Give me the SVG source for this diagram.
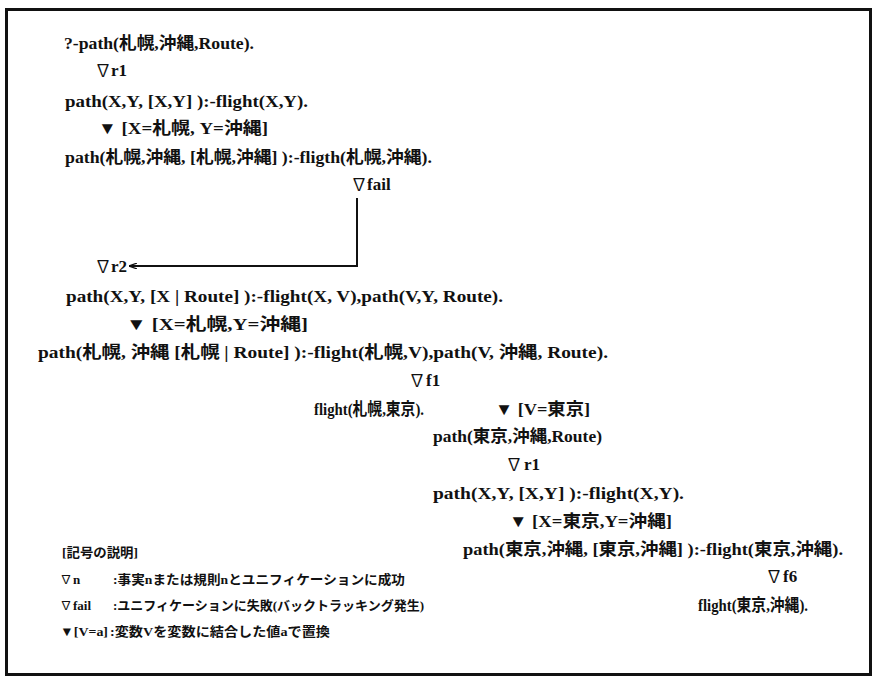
<svg xmlns="http://www.w3.org/2000/svg" width="876" height="681" viewBox="0 0 876 681">
<defs>
<style>
.t{font-family:"Liberation Serif","Noto Sans CJK JP",serif;font-size:17px;font-weight:bold;fill:#111}
.s{font-family:"Liberation Serif","Noto Sans CJK JP",serif;font-size:13px;font-weight:bold;fill:#111}
.n{font-weight:normal;font-size:16px}
.s .n{font-size:12px}
.c{stroke:#111;stroke-width:2;fill:none}
</style>
<marker id="ah" markerWidth="8" markerHeight="6" refX="8" refY="3" orient="auto" markerUnits="userSpaceOnUse">
<path d="M0,0 L8,3 L0,6" fill="none" stroke="#111" stroke-width="1.2"/>
</marker>
</defs>
<rect x="0" y="0" width="876" height="681" fill="#fff"/>
<rect x="6.5" y="9.5" width="864" height="665" fill="none" stroke="#111" stroke-width="3"/>
<g id="connectors">
<path class="c" d="M357,198 V266 H129" marker-end="url(#ah)"/>
</g>
<g id="n1"><text class="t" x="64" y="49" textLength="190" lengthAdjust="spacingAndGlyphs">?-path(札幌,沖縄,Route).</text></g>
<g id="n2"><text class="t" y="76"><tspan class="n" x="95">∇</tspan><tspan x="111">r1</tspan></text></g>
<g id="n3"><text class="t" x="65" y="107" textLength="243" lengthAdjust="spacingAndGlyphs">path(X,Y, [X,Y] ):-flight(X,Y).</text></g>
<g id="n4"><text class="t" x="98" y="134" textLength="170" lengthAdjust="spacingAndGlyphs">▼ [X=札幌, Y=沖縄]</text></g>
<g id="n5"><text class="t" x="65" y="163" textLength="367" lengthAdjust="spacingAndGlyphs">path(札幌,沖縄, [札幌,沖縄] ):-fligth(札幌,沖縄).</text></g>
<g id="n6"><text class="t" y="190"><tspan class="n" x="351">∇</tspan><tspan x="367">fail</tspan></text></g>
<g id="n7"><text class="t" y="272"><tspan class="n" x="95">∇</tspan><tspan x="111">r2</tspan></text></g>
<g id="n8"><text class="t" x="66" y="302" textLength="437" lengthAdjust="spacingAndGlyphs">path(X,Y, [X | Route] ):-flight(X, V),path(V,Y, Route).</text></g>
<g id="n9"><text class="t" x="126" y="330" textLength="182" lengthAdjust="spacingAndGlyphs">▼ [X=札幌,Y=沖縄]</text></g>
<g id="n10"><text class="t" x="38" y="358" textLength="570" lengthAdjust="spacingAndGlyphs">path(札幌, 沖縄 [札幌 | Route] ):-flight(札幌,V),path(V, 沖縄, Route).</text></g>
<g id="n11"><text class="t" y="386"><tspan class="n" x="409">∇</tspan><tspan x="426">f1</tspan></text></g>
<g id="n12"><text class="t" x="314" y="415" textLength="110" lengthAdjust="spacingAndGlyphs">flight(札幌,東京).</text></g>
<g id="n13"><text class="t" x="495" y="415" textLength="95" lengthAdjust="spacingAndGlyphs">▼ [V=東京]</text></g>
<g id="n14"><text class="t" x="433" y="442" textLength="169" lengthAdjust="spacingAndGlyphs">path(東京,沖縄,Route)</text></g>
<g id="n15"><text class="t" y="470"><tspan class="n" x="506">∇</tspan><tspan x="524">r1</tspan></text></g>
<g id="n16"><text class="t" x="433" y="499" textLength="251" lengthAdjust="spacingAndGlyphs">path(X,Y, [X,Y] ):-flight(X,Y).</text></g>
<g id="n17"><text class="t" x="509" y="527" textLength="163" lengthAdjust="spacingAndGlyphs">▼ [X=東京,Y=沖縄]</text></g>
<g id="n18"><text class="t" x="463" y="555" textLength="380" lengthAdjust="spacingAndGlyphs">path(東京,沖縄, [東京,沖縄] ):-flight(東京,沖縄).</text></g>
<g id="n19"><text class="t" y="582"><tspan class="n" x="766">∇</tspan><tspan x="783">f6</tspan></text></g>
<g id="n20"><text class="t" x="698" y="611" textLength="110" lengthAdjust="spacingAndGlyphs">flight(東京,沖縄).</text></g>
<g id="legend">
<text class="s" x="62" y="557" textLength="76" lengthAdjust="spacingAndGlyphs">[記号の説明]</text>
<text class="s" y="584"><tspan class="n" x="60">∇</tspan><tspan x="73">n</tspan></text>
<text class="s" x="113" y="584" textLength="292" lengthAdjust="spacingAndGlyphs">:事実nまたは規則nとユニフィケーションに成功</text>
<text class="s" y="610"><tspan class="n" x="60">∇</tspan><tspan x="73">fail</tspan></text>
<text class="s" x="113" y="610" textLength="311" lengthAdjust="spacingAndGlyphs">:ユニフィケーションに失敗(バックトラッキング発生)</text>
<text class="s" x="60" y="636" textLength="48" lengthAdjust="spacingAndGlyphs">▼[V=a]</text>
<text class="s" x="110" y="636" textLength="220" lengthAdjust="spacingAndGlyphs">:変数Vを変数に結合した値aで置換</text>
</g>
</svg>
